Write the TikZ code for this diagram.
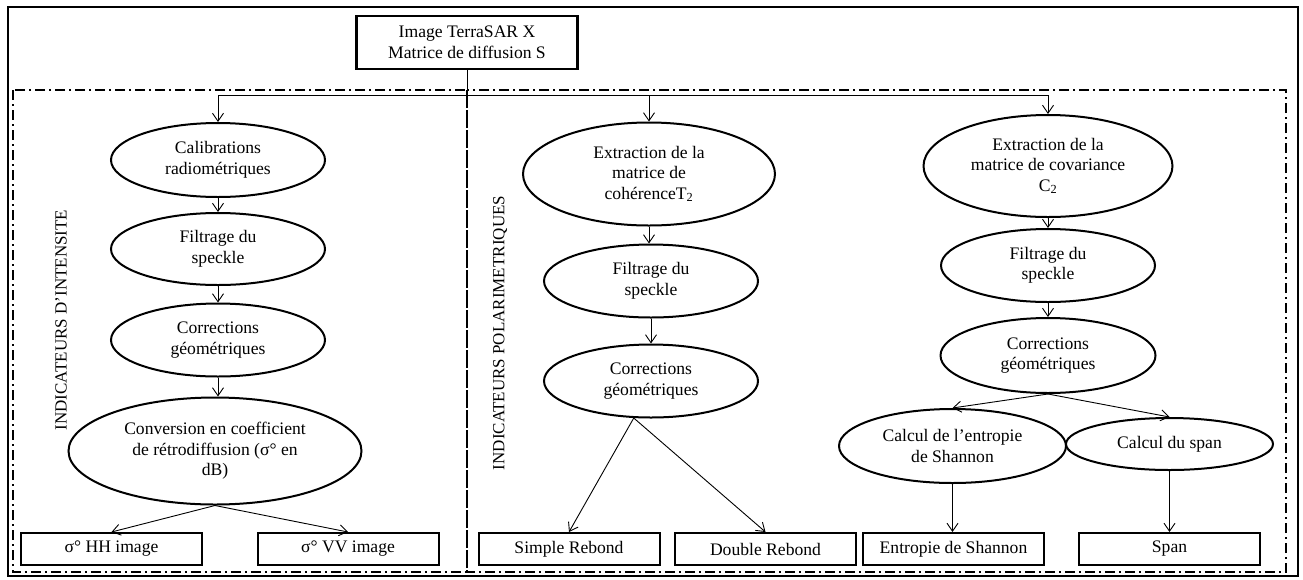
\documentclass[tikz,border=0pt]{standalone}
\usepackage{fontspec}
\setmainfont{Liberation Serif}
\usetikzlibrary{shapes.geometric,arrows.meta}

\begin{document}
\begin{tikzpicture}[x=1pt,y=-1pt,
    etape/.style={ellipse,draw,line width=2pt,inner sep=0pt,align=center,font=\fontsize{17.6}{20.5}\selectfont},
    sortie/.style={rectangle,draw,line width=2pt,inner sep=0pt,minimum width=181pt,minimum height=32pt,font=\fontsize{17.6}{20.5}\selectfont},
    fleche/.style={-{Straight Barb[length=8pt,width=11pt]},line width=0.9pt},
    lien/.style={line width=0.9pt},
    cadre/.style={line width=1.8pt,dash pattern=on 10pt off 4pt on 2pt off 4pt},
    titre/.style={rotate=90,inner sep=0pt,font=\fontsize{17}{20.5}\selectfont}]

    % 枠の定義
    \useasboundingbox (0,0) rectangle (1303,579);
    \pgfmathsetmacro{\xg}{218}
    \pgfmathsetmacro{\xm}{651}
    \pgfmathsetmacro{\xd}{1048}
    \pgfmathsetmacro{\yb}{549}

    % 外枠と点線枠
    \draw [line width=2.4pt] (8,7) rectangle (1298,576);
    \draw [cadre] (13,90) rectangle (467,572);
    \draw [cadre] (467,90) rectangle (1286,572);

    % 見出し
    \node [titre] (lint) at (61,320) {INDICATEURS D’INTENSITE};
    \node [titre] (lpol) at (500,333) {INDICATEURS POLARIMETRIQUES};

    % 入力画像
    \node [rectangle,draw,line width=2.4pt,align=center,minimum width=221pt,minimum height=53pt,
           font=\fontsize{17.6}{20.5}\selectfont] (img) at (467,42.5)
          {Image TerraSAR X\\Matrice de diffusion S};
    \coordinate (split) at (467,95);

    % 強度の列
    \node [etape,minimum width=214pt,minimum height=74pt] (calib) at (\xg,160) {Calibrations\\radiométriques};
    \node [etape,minimum width=214pt,minimum height=72pt] (lfilt) at (\xg,249) {Filtrage du\\speckle};
    \node [etape,minimum width=214pt,minimum height=73pt] (lcorr) at (\xg,340) {Corrections\\géométriques};
    \node [etape,minimum width=293pt,minimum height=107pt] (conv) at (215,451)
          {Conversion en coefficient\\de rétrodiffusion (σ° en\\dB)};
    \node [sortie] (hh) at (111.5,\yb) {σ° HH image};
    \node [sortie] (vv) at (348,\yb) {σ° VV image};

    % コヒーレンスの列
    \node [etape,minimum width=252pt,minimum height=103pt] (coh) at (649,174)
          {Extraction de la\\matrice de\\cohérenceT\textsubscript{2}};
    \node [etape,minimum width=214pt,minimum height=73pt] (mfilt) at (\xm,281) {Filtrage du\\speckle};
    \node [etape,minimum width=214pt,minimum height=73pt] (mcorr) at (\xm,381) {Corrections\\géométriques};
    \node [sortie] (simple) at (569,\yb) {Simple Rebond};
    \node [sortie] (double) at (765.5,\yb) {Double Rebond};

    % 共分散の列
    \node [etape,minimum width=249pt,minimum height=102pt] (cov) at (\xd,166)
          {Extraction de la\\matrice de covariance\\C\textsubscript{2}};
    \node [etape,minimum width=214pt,minimum height=73pt] (rfilt) at (\xd,265.5) {Filtrage du\\speckle};
    \node [etape,minimum width=215pt,minimum height=75pt] (rcorr) at (\xd,355.5) {Corrections\\géométriques};
    \node [etape,minimum width=227pt,minimum height=74pt] (shannon) at (952.5,446)
          {Calcul de l’entropie\\de Shannon};
    \node [etape,minimum width=207pt,minimum height=52pt] (spanc) at (1169.5,444) {Calcul du span};
    \node [sortie] (entbox) at (953.5,\yb) {Entropie de Shannon};
    \node [sortie] (spanbox) at (1169.5,\yb) {Span};

    % 矢印の描画
    \draw [lien] (img.south) -- (split);
    \draw [fleche] (split) -| (calib);
    \draw [fleche] (split) -| (coh);
    \draw [fleche] (split) -| (cov);

    \draw [fleche] (calib) -- (lfilt);
    \draw [fleche] (lfilt) -- (lcorr);
    \draw [fleche] (lcorr.south) -- (lcorr.south |- conv.north);
    \draw [fleche] (conv.south) -- (hh.north);
    \draw [fleche] (conv.south) -- (vv.north);

    \draw [fleche] (coh.south) -- (coh.south |- mfilt.north);
    \draw [fleche] (mfilt) -- (mcorr);
    \draw [fleche] (mcorr.245) -- (simple.north);
    \draw [fleche] (mcorr.245) -- (double.north);

    \draw [fleche] (cov) -- (rfilt);
    \draw [fleche] (rfilt) -- (rcorr);
    \draw [fleche] (rcorr.south) -- (shannon.north);
    \draw [fleche] (rcorr.south) -- (spanc.north);
    \draw [fleche] (shannon.south) -- (shannon.south |- entbox.north);
    \draw [fleche] (spanc) -- (spanbox);

\end{tikzpicture}
\end{document}
